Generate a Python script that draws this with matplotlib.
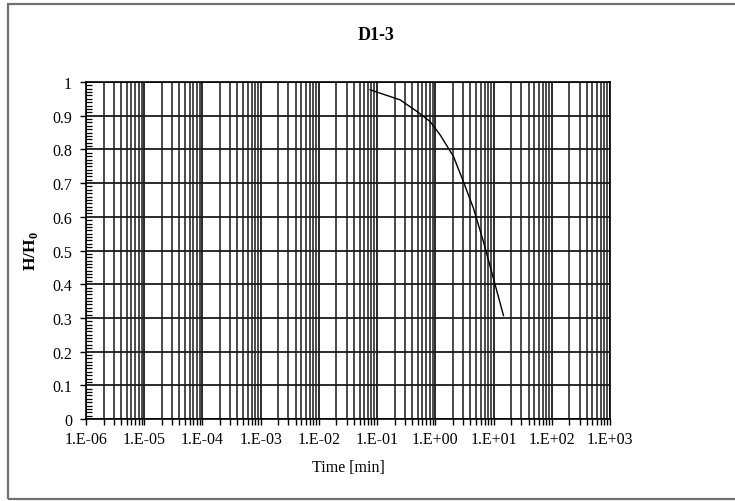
import matplotlib
matplotlib.use("Agg")
import matplotlib.pyplot as plt
import matplotlib.ticker as mticker
from matplotlib.patches import Rectangle
import numpy as np

# ---- data ----
time_min = [0.076, 0.112, 0.248, 0.48, 0.81, 1.21, 2.05, 3.04, 4.52, 6.71, 8.19, 10.7, 14.8]
h_ratio = [0.977, 0.967, 0.947, 0.913, 0.883, 0.843, 0.779, 0.704, 0.625, 0.526, 0.471, 0.397, 0.307]

x_tick_values = [1e-6, 1e-5, 1e-4, 1e-3, 1e-2, 1e-1, 1e0, 1e1, 1e2, 1e3]
x_tick_labels = ["1.E-06", "1.E-05", "1.E-04", "1.E-03", "1.E-02", "1.E-01",
                 "1.E+00", "1.E+01", "1.E+02", "1.E+03"]
y_tick_values = [0, 0.1, 0.2, 0.3, 0.4, 0.5, 0.6, 0.7, 0.8, 0.9, 1.0]
y_tick_labels = ["0", "0.1", "0.2", "0.3", "0.4", "0.5", "0.6", "0.7", "0.8", "0.9", "1"]

title = "D1-3"
xlabel = "Time [min]"
ylabel = r"H/H$_\mathregular{0}$"

plt.rcParams['font.family'] = ['Liberation Serif', 'DejaVu Serif']
plt.rcParams['mathtext.fontset'] = 'custom'
plt.rcParams['mathtext.rm'] = 'Liberation Serif'
plt.rcParams['mathtext.bf'] = 'Liberation Serif:bold'

fig = plt.figure(figsize=(7.35, 5.02), dpi=100)
ax = fig.add_axes([86/735, 1-420/502, (610-86)/735, (420-83)/502])

# outer chart border
fig.patches.append(Rectangle((8/735, 1-500/502), 1.2, (500-5)/502, transform=fig.transFigure,
                             fill=False, edgecolor='#707070', linewidth=1.6, clip_on=False))

ax.set_xscale('log')
ax.set_xlim(1e-6, 1e3)
ax.set_ylim(0, 1)

ax.plot(time_min, h_ratio, color='black', linewidth=1.0, zorder=3)

ax.xaxis.set_major_locator(mticker.FixedLocator(x_tick_values))
ax.xaxis.set_major_formatter(mticker.FixedFormatter(x_tick_labels))
ax.xaxis.set_minor_locator(mticker.LogLocator(base=10, subs=np.arange(2, 10), numticks=100))
ax.xaxis.set_minor_formatter(mticker.NullFormatter())

ax.yaxis.set_major_locator(mticker.FixedLocator(y_tick_values))
ax.yaxis.set_major_formatter(mticker.FixedFormatter(y_tick_labels))
ax.yaxis.set_minor_locator(mticker.MultipleLocator(0.01))

ax.grid(which='major', axis='both', color='#1a1a1a', linewidth=1.3)
ax.grid(which='minor', axis='x', color='#1a1a1a', linewidth=1.1)

ax.tick_params(axis='x', which='both', direction='out', length=4, width=1.0, labelsize=11.5, pad=5)
ax.tick_params(axis='y', which='major', direction='out', length=4, width=1.0, labelsize=11.5, pad=6)
ax.tick_params(axis='y', which='minor', direction='in', length=4, width=0.9)

for s in ax.spines.values():
    s.set_color('black')
    s.set_linewidth(1.2)

ax.set_title(title, fontsize=13, fontweight='bold', x=(376-86)/524, pad=31)
ax.set_xlabel(xlabel, fontsize=11.5, labelpad=8)
ax.set_ylabel(ylabel, fontsize=12.5, fontweight='bold', labelpad=9)

fig.savefig("out.png", dpi=100)
